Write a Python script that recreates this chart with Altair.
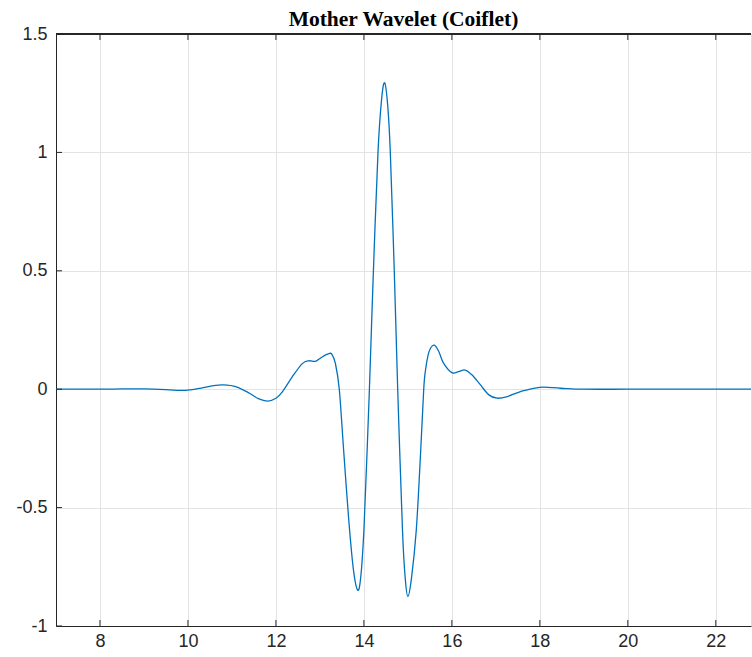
import altair as alt
import pandas as pd

# Coiflet mother wavelet
x_vals = [7.0, 8.0, 8.5, 9.0, 9.5, 9.8, 10.0, 10.3, 10.55, 10.8, 11.1, 11.4, 11.6,
          11.81, 12.0, 12.15, 12.37, 12.6, 12.75, 12.9, 13.05, 13.2, 13.27, 13.35,
          13.44, 13.54, 13.65, 13.76, 13.86, 13.93, 14.0, 14.06, 14.125, 14.216, 14.32,
          14.4, 14.47, 14.54, 14.6, 14.69, 14.768, 14.877, 14.94, 15.0, 15.08, 15.19,
          15.28, 15.36, 15.4, 15.46, 15.52, 15.6, 15.7, 15.81, 16.0, 16.15, 16.3, 16.46,
          16.65, 16.84, 17.03, 17.26, 17.56, 18.0, 18.47, 19.0, 20.0, 21.0, 22.0, 22.8]
y_vals = [0.0, 0.0, 0.001, 0.001, -0.002, -0.005, -0.004, 0.005, 0.014, 0.018, 0.01,
          -0.017, -0.04, -0.05, -0.038, -0.01, 0.052, 0.108, 0.12, 0.118, 0.136, 0.15,
          0.148, 0.11, 0.0, -0.26, -0.54, -0.76, -0.849, -0.79, -0.596, -0.32, 0.0, 0.5,
          1.0, 1.22, 1.294, 1.2, 1.0, 0.5, 0.0, -0.596, -0.8, -0.875, -0.8, -0.596,
          -0.3, 0.0, 0.08, 0.145, 0.175, 0.186, 0.16, 0.11, 0.07, 0.074, 0.081, 0.06,
          0.018, -0.024, -0.038, -0.031, -0.01, 0.008, 0.004, 0.0, 0.0, 0.0, 0.0, 0.0]

x_ticks = [8, 10, 12, 14, 16, 18, 20, 22]
y_ticks = [-1, -0.5, 0, 0.5, 1, 1.5]
x_domain = [7, 22.8]
y_domain = [-1, 1.5]

W, H = 695, 592
TXT = "#262626"
FONT = "Liberation Sans"

df = pd.DataFrame({"x": x_vals, "y": y_vals})
xt = pd.DataFrame({"x": x_ticks})
yt = pd.DataFrame({"y": y_ticks})

xs = alt.Scale(domain=x_domain, nice=False, zero=False)
ys = alt.Scale(domain=y_domain, nice=False, zero=False)

x_axis = alt.Axis(values=x_ticks, grid=True, gridColor="#e3e3e3",
                  domainColor=TXT, tickSize=0, labelPadding=6,
                  labelFont=FONT, labelFontSize=18, labelColor=TXT,
                  labelExpr="'' + datum.value")
y_axis = alt.Axis(values=y_ticks, grid=True, gridColor="#e3e3e3",
                  domainColor=TXT, tickSize=0, labelPadding=9,
                  labelFont=FONT, labelFontSize=18, labelColor=TXT,
                  labelExpr="'' + datum.value")

line = alt.Chart(df).mark_line(
    color="#0072BD", strokeWidth=1.3, interpolate="cardinal", clip=True
).encode(
    x=alt.X("x:Q", scale=xs, title=None, axis=x_axis),
    y=alt.Y("y:Q", scale=ys, title=None, axis=y_axis),
)

top_frame = alt.Chart(df).mark_rule(color=TXT, strokeWidth=1).encode(
    x=alt.value(0), x2=alt.value(W), y=alt.value(0)
)

xticks_bottom = alt.Chart(xt).mark_rule(color=TXT).encode(
    x=alt.X("x:Q", scale=xs, title=None, axis=x_axis), y=alt.value(H), y2=alt.value(H - 6)
)
xticks_top = alt.Chart(xt).mark_rule(color=TXT).encode(
    x=alt.X("x:Q", scale=xs, title=None, axis=x_axis), y=alt.value(0), y2=alt.value(6)
)
yticks_left = alt.Chart(yt).mark_rule(color=TXT).encode(
    y=alt.Y("y:Q", scale=ys, title=None, axis=y_axis), x=alt.value(0), x2=alt.value(6)
)

chart = alt.layer(line, top_frame, xticks_bottom, xticks_top, yticks_left).properties(
    width=W, height=H,
    title=alt.TitleParams("Mother Wavelet (Coiflet)", font="Liberation Serif",
                          fontSize=21.5, fontWeight="bold", color="#000000",
                          anchor="middle", frame="group", offset=6, dy=11),
    autosize=alt.AutoSizeParams(type="none"),
    padding={"left": 56, "top": 34, "right": 1, "bottom": 31},
).configure_view(stroke=None).configure(background="white")

chart.save("out.html", embed_options={"renderer": "svg", "actions": False})
